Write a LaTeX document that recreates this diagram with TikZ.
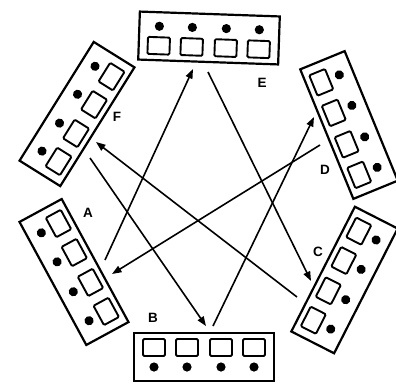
\documentclass[tikz,border=0pt]{standalone}
\usepackage{fontspec}
\newfontfamily\labfont{Liberation Sans}
\usetikzlibrary{arrows.meta}
\tikzset{
  frame/.style={line width=2.2pt},
  cell/.style={line width=1.9pt, rounded corners=1.2pt},
  conn/.style={line width=1.6pt, -{Triangle[length=9.5pt,width=7pt]}},
  lab/.style={font=\labfont\bfseries\fontsize{13.5}{13.5}\selectfont, inner sep=0pt}
}
\newcommand\panel[3]{%
  \begin{scope}[shift={(#1,#2)},rotate=#3]
    \draw[frame] (-70,-24) rectangle (70,24);
    \foreach \u in {-50,-17,17,50}{
      \draw[cell] (\u-11,1) rectangle (\u+11,18);
      \fill (\u,-10) circle (4.6);
    }
  \end{scope}}
\begin{document}
\begin{tikzpicture}[x=1pt,y=-1pt]
  \useasboundingbox (0,0) rectangle (396,383);
  % panels
  \panel{209}{38}{-2}
  \panel{77}{114}{58}
  \panel{74}{272}{118.5}
  \panel{204}{357}{180}
  \panel{344.5}{280}{-117}
  \panel{349}{125}{-67.7}
  % labels
  \node[lab] (labE) at (262,83) {E};
  \node[lab] (labF) at (117,117) {F};
  \node[lab] (labA) at (88,213) {A};
  \node[lab] (labD) at (325,170) {D};
  \node[lab] (labC) at (318,252) {C};
  \node[lab] (labB) at (153,318) {B};
  % connector ends
  \coordinate (a1) at (105,260);
  \coordinate (e1) at (193,69);
  \coordinate (e2) at (208,72);
  \coordinate (c1) at (311,281);
  \coordinate (c2) at (297,297);
  \coordinate (f1) at (96,142);
  \coordinate (f2) at (90,158);
  \coordinate (b1) at (206,326);
  \coordinate (b2) at (213,326);
  \coordinate (d1) at (314,117);
  \coordinate (d2) at (320,145);
  \coordinate (a2) at (112,274);
  % connectors
  \draw[conn] (a1) -- (e1);
  \draw[conn] (e2) -- (c1);
  \draw[conn] (c2) -- (f1);
  \draw[conn] (f2) -- (b1);
  \draw[conn] (b2) -- (d1);
  \draw[conn] (d2) -- (a2);
\end{tikzpicture}
\end{document}
